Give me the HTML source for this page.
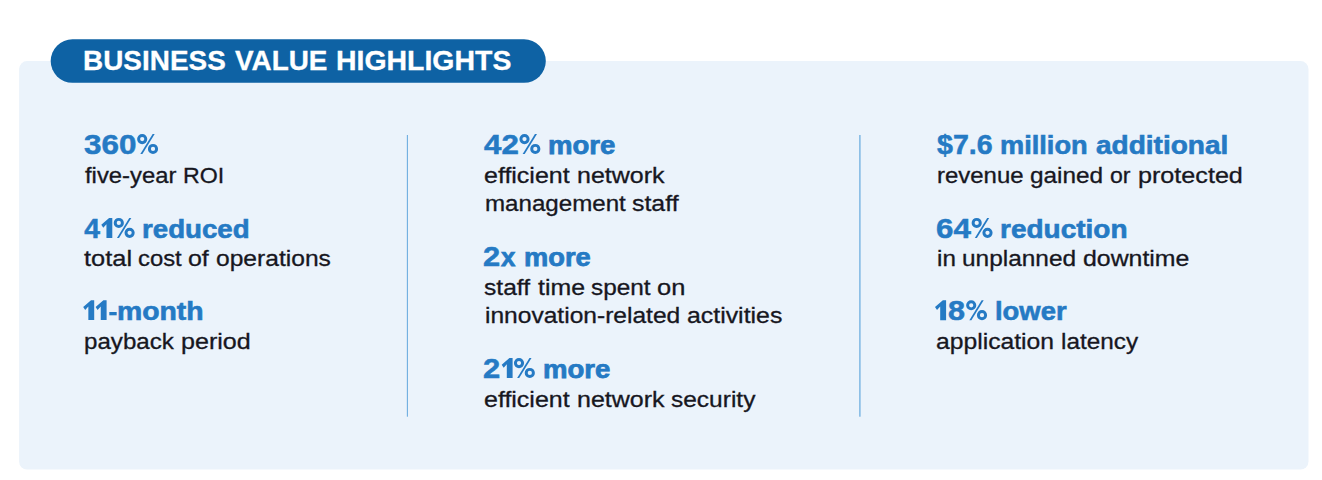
<!DOCTYPE html>
<html><head><meta charset="utf-8"><title>Business Value Highlights</title>
<style>
html,body{margin:0;padding:0;background:#fff;}
body{width:1322px;height:480px;position:relative;overflow:hidden;font-family:"Liberation Sans",sans-serif;}
.shapes{position:absolute;left:0;top:0;display:block;}
.l{position:absolute;white-space:nowrap;line-height:1;transform-origin:0 0;margin:0;padding:0;}
.t{font-weight:700;color:#fff;font-size:28.3px;-webkit-text-stroke:0.3px #fff;}
.hd,.hx,.hl{font-weight:700;color:#257ac4;}
.hd{font-size:28.3px;-webkit-text-stroke:0.5px #257ac4;}
.hx{font-size:25.3px;-webkit-text-stroke:0.75px #257ac4;}
.hl{font-size:26.5px;-webkit-text-stroke:0.62px #257ac4;}
.gh{color:transparent;-webkit-text-stroke:0 transparent;}
.b{font-weight:400;color:#17171f;font-size:21.5px;-webkit-text-stroke:0.3px #17171f;}
</style></head><body>
<svg class="shapes" width="1322" height="480" viewBox="0 0 1322 480">
<rect x="19.1" y="61.05" width="1289.4" height="408.45" rx="8" ry="8" fill="#ebf3fb"/>
<rect x="50.7" y="39.3" width="495.1" height="43.5" rx="21.75" ry="21.75" fill="#0e62a4"/>
<rect x="406.85" y="135" width="1.1" height="281.7" fill="#6faee0"/>
<rect x="859.25" y="135" width="1.3" height="281.7" fill="#6faee0"/>
</svg>
<div class="l t" style="left:82.64px;top:46px;transform:scaleX(0.9868)">BUSINESS</div>
<div class="l t" style="left:235.08px;top:46px;transform:scaleX(0.9857)">VALUE</div>
<div class="l t" style="left:336.47px;top:46px;transform:scaleX(1.0049)">HIGHLIGHTS</div>
<div class="l hd" style="left:83.70px;top:130px;transform:scaleX(1.1097)">360</div>
<div class="l hd gh" style="left:137.00px;top:130px">%</div>
<div class="l b" style="left:84.58px;top:166px;transform:scaleX(1.1085)">five-year</div>
<div class="l b" style="left:183.32px;top:166px;transform:scaleX(1.0795)">ROI</div>
<div class="l hd" style="left:84.30px;top:214px;transform:scaleX(1.0000)">4</div>
<div class="l hd gh" style="left:101.30px;top:214px">1</div>
<div class="l hd gh" style="left:113.60px;top:214px">%</div>
<div class="l hl" style="left:141.93px;top:216px;transform:scaleX(1.0435)">reduced</div>
<div class="l b" style="left:84.22px;top:249px;transform:scaleX(1.1819)">total</div>
<div class="l b" style="left:138.25px;top:249px;transform:scaleX(1.1072)">cost</div>
<div class="l b" style="left:188.31px;top:249px;transform:scaleX(1.1600)">of</div>
<div class="l b" style="left:215.85px;top:249px;transform:scaleX(1.1442)">operations</div>
<div class="l hd gh" style="left:83.20px;top:296px">11-</div>
<div class="l hl" style="left:116.94px;top:298px;transform:scaleX(1.0701)">month</div>
<div class="l b" style="left:84.10px;top:332px;transform:scaleX(1.1218)">payback</div>
<div class="l b" style="left:181.11px;top:332px;transform:scaleX(1.1672)">period</div>
<div class="l hd" style="left:484.35px;top:130px;transform:scaleX(1.1044)">42</div>
<div class="l hd gh" style="left:519.30px;top:130px">%</div>
<div class="l hx" style="left:548.02px;top:133px;transform:scaleX(1.0903)">more</div>
<div class="l b" style="left:483.95px;top:166px;transform:scaleX(1.1618)">efficient</div>
<div class="l b" style="left:577.07px;top:166px;transform:scaleX(1.1623)">network</div>
<div class="l b" style="left:485.08px;top:194px;transform:scaleX(1.1218)">management</div>
<div class="l b" style="left:632.45px;top:194px;transform:scaleX(1.1572)">staff</div>
<div class="l hd" style="left:483.41px;top:242px;transform:scaleX(1.0907)">2</div>
<div class="l hx" style="left:501.40px;top:245px;transform:scaleX(1.0226)">x</div>
<div class="l hx" style="left:524.07px;top:245px;transform:scaleX(1.0781)">more</div>
<div class="l b" style="left:484.45px;top:278px;transform:scaleX(1.1459)">staff</div>
<div class="l b" style="left:538.23px;top:278px;transform:scaleX(1.1559)">time</div>
<div class="l b" style="left:590.73px;top:278px;transform:scaleX(1.1330)">spent</div>
<div class="l b" style="left:657.05px;top:278px;transform:scaleX(1.1835)">on</div>
<div class="l b" style="left:485.18px;top:306px;transform:scaleX(1.1423)">innovation-related</div>
<div class="l b" style="left:686.99px;top:306px;transform:scaleX(1.1561)">activities</div>
<div class="l hd" style="left:483.28px;top:354px;transform:scaleX(1.0933)">2</div>
<div class="l hd gh" style="left:501.70px;top:354px">1</div>
<div class="l hd gh" style="left:513.80px;top:354px">%</div>
<div class="l hx" style="left:543.22px;top:357px;transform:scaleX(1.0886)">more</div>
<div class="l b" style="left:483.95px;top:390px;transform:scaleX(1.1618)">efficient</div>
<div class="l b" style="left:576.60px;top:390px;transform:scaleX(1.1627)">network</div>
<div class="l b" style="left:671.35px;top:390px;transform:scaleX(1.1391)">security</div>
<div class="l hd" style="left:937.00px;top:130px;transform:scaleX(1.0094)">$7.6</div>
<div class="l hl" style="left:1000.17px;top:132px;transform:scaleX(1.0265)">million</div>
<div class="l hl" style="left:1096.12px;top:132px;transform:scaleX(1.0572)">additional</div>
<div class="l b" style="left:937.22px;top:166px;transform:scaleX(1.1139)">revenue</div>
<div class="l b" style="left:1029.83px;top:166px;transform:scaleX(1.1325)">gained</div>
<div class="l b" style="left:1109.73px;top:166px;transform:scaleX(1.0730)">or</div>
<div class="l b" style="left:1138.11px;top:166px;transform:scaleX(1.1697)">protected</div>
<div class="l hd" style="left:936.35px;top:214px;transform:scaleX(1.1061)">64</div>
<div class="l hd gh" style="left:971.50px;top:214px">%</div>
<div class="l hl" style="left:1000.11px;top:216px;transform:scaleX(1.0567)">reduction</div>
<div class="l b" style="left:937.08px;top:249px;transform:scaleX(1.1257)">in</div>
<div class="l b" style="left:961.79px;top:249px;transform:scaleX(1.1362)">unplanned</div>
<div class="l b" style="left:1083.31px;top:249px;transform:scaleX(1.1563)">downtime</div>
<div class="l hd gh" style="left:935.00px;top:296px">1</div>
<div class="l hd" style="left:947.77px;top:296px;transform:scaleX(1.0812)">8</div>
<div class="l hd gh" style="left:966.00px;top:296px">%</div>
<div class="l hl" style="left:995.10px;top:298px;transform:scaleX(1.0339)">lower</div>
<div class="l b" style="left:936.14px;top:332px;transform:scaleX(1.1485)">application</div>
<div class="l b" style="left:1061.19px;top:332px;transform:scaleX(1.1310)">latency</div>
<svg class="shapes" width="1322" height="480" viewBox="0 0 1322 480" fill="#257ac4"><style>circle{fill:none;stroke:#257ac4;stroke-width:2.95}</style>
<path transform="translate(83.20 300.20) scale(1.0000 0.9950)" d="M7.8 0H11V20H5.15V6.3L2 9.8 0 6.8Z"/>
<path transform="translate(95.60 300.20) scale(1.0000 0.9950)" d="M7.8 0H11V20H5.15V6.3L2 9.8 0 6.8Z"/>
<path transform="translate(101.30 218.00) scale(1.0000 0.9950)" d="M7.8 0H11V20H5.15V6.3L2 9.8 0 6.8Z"/>
<path transform="translate(501.70 358.00) scale(0.9909 0.9950)" d="M7.8 0H11V20H5.15V6.3L2 9.8 0 6.8Z"/>
<path transform="translate(935.00 300.20) scale(1.0091 1.0000)" d="M7.8 0H11V20H5.15V6.3L2 9.8 0 6.8Z"/>
<g transform="translate(137.00 134.00)"><circle cx="5.2" cy="5.05" r="3.6"/><circle cx="16.0" cy="14.95" r="3.6"/><path d="M15.65 0H17.7L5.4 20H3.35Z" fill="#257ac4" stroke="none"/></g>
<g transform="translate(113.60 217.90)"><circle cx="5.2" cy="5.05" r="3.6"/><circle cx="16.0" cy="14.95" r="3.6"/><path d="M15.65 0H17.7L5.4 20H3.35Z" fill="#257ac4" stroke="none"/></g>
<g transform="translate(519.30 134.00)"><circle cx="5.2" cy="5.05" r="3.6"/><circle cx="16.0" cy="14.95" r="3.6"/><path d="M15.65 0H17.7L5.4 20H3.35Z" fill="#257ac4" stroke="none"/></g>
<g transform="translate(513.80 358.00)"><circle cx="5.2" cy="5.05" r="3.6"/><circle cx="16.0" cy="14.95" r="3.6"/><path d="M15.65 0H17.7L5.4 20H3.35Z" fill="#257ac4" stroke="none"/></g>
<g transform="translate(971.50 217.90)"><circle cx="5.2" cy="5.05" r="3.6"/><circle cx="16.0" cy="14.95" r="3.6"/><path d="M15.65 0H17.7L5.4 20H3.35Z" fill="#257ac4" stroke="none"/></g>
<g transform="translate(966.00 300.20)"><circle cx="5.2" cy="5.05" r="3.6"/><circle cx="16.0" cy="14.95" r="3.6"/><path d="M15.65 0H17.7L5.4 20H3.35Z" fill="#257ac4" stroke="none"/></g>
<rect x="109.3" y="312.0" width="7.4" height="3.3"/>
</svg>
</body></html>
